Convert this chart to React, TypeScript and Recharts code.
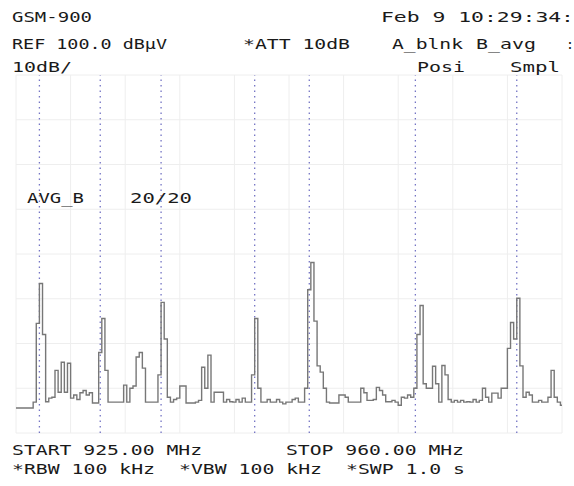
import { LineChart, Line, XAxis, YAxis, CartesianGrid, ReferenceLine } from "recharts";

// sweep settings
const START_MHZ = 925;
const STOP_MHZ = 960;
const REF_DBUV = 100;
const DB_PER_DIV = 10;
const DIVS_Y = 8;
const DIVS_X = 10;

// averaged trace B, 176 sweep points (dBuV)
const levels = [
  25.6, 25.6, 25.6, 25.6, 25.6, 25.6, 26.9, 44.5, 53.4, 42,
  27, 27.8, 28, 34, 29.1, 35.8, 29.1, 35.6, 27.8, 28.5,
  27.5, 29, 29.5, 28.5, 29, 26.7, 26.7, 38, 45.6, 34,
  26.9, 26.9, 26.9, 26.9, 26.9, 30.7, 26.9, 30, 30.5, 37,
  38, 34.5, 26.9, 26.9, 26.9, 26.9, 33, 49.2, 41, 28,
  26.9, 27.5, 27.8, 30.5, 30.5, 26.7, 26.7, 26.7, 26.9, 27.3,
  34.7, 30, 37.4, 26.9, 29.1, 29.1, 29.1, 26.9, 27.5, 27,
  26.9, 27.5, 26.9, 27.8, 26.9, 26.9, 33, 45.6, 30, 26.9,
  26.9, 27.5, 26.9, 26.9, 27.5, 26.9, 26.5, 26.9, 26.9, 27.5,
  27.8, 26.9, 26.9, 30, 52, 58.1, 45, 35, 33.6, 30,
  26.9, 26.7, 26.7, 26.7, 28.5, 28.5, 28, 26.9, 26.9, 26.9,
  26.9, 30, 29, 27.3, 27.3, 27.5, 30.2, 29.5, 28.5, 27,
  27, 27.3, 26.9, 26.2, 28, 27.8, 28.5, 28, 30, 42,
  48.5, 31, 30, 30, 34.9, 31, 26.9, 35.1, 33, 27.5,
  26.9, 27.3, 26.9, 27.3, 26.9, 27, 26.9, 27.5, 26.9, 27.3,
  30, 28, 26.9, 28.9, 28.9, 27.8, 30, 30, 38.9, 44.7,
  41, 50.1, 35, 28, 29.1, 28.5, 26.9, 26.9, 27.3, 26.9,
  26.9, 28, 34, 28, 26.9, 26.2,
];

// channel markers (MHz)
const markers = [926.5, 930.4, 934.3, 940.3, 943.8, 950.6, 957.1];

const headerTexts = [
  { text: "GSM-900", x: 12, y: 22, w: 80 },
  { text: "Feb  9 10:29:34:", x: 381, y: 22, w: 193 },
  { text: "REF 100.0 dB\u00b5V", x: 12, y: 49, w: 155 },
  { text: "*ATT 10dB", x: 243, y: 49, w: 107 },
  { text: "A_blnk", x: 392, y: 49, w: 71 },
  { text: "B_avg", x: 476, y: 49, w: 60 },
  { text: ":", x: 566, y: 49, w: 8 },
  { text: "10dB/", x: 12, y: 72, w: 60 },
  { text: "Posi", x: 417, y: 72, w: 48 },
  { text: "Smpl", x: 510, y: 72, w: 50 },
  { text: "AVG_B", x: 27, y: 203, w: 57 },
  { text: "20/20", x: 130, y: 203, w: 62 },
  { text: "START 925.00 MHz", x: 12, y: 455, w: 190 },
  { text: "STOP 960.00 MHz", x: 286, y: 455, w: 178 },
  { text: "*RBW 100 kHz", x: 12, y: 474, w: 143 },
  { text: "*VBW 100 kHz", x: 179, y: 474, w: 143 },
  { text: "*SWP 1.0 s", x: 346, y: 474, w: 119 },
];

const step = (STOP_MHZ - START_MHZ) / (levels.length - 1);
const data = levels.map((v, i) => ({ f: START_MHZ + i * step, v }));

const xTicks = Array.from({ length: DIVS_X + 1 }, (_, i) => START_MHZ + (i * (STOP_MHZ - START_MHZ)) / DIVS_X);
const bottom = REF_DBUV - DB_PER_DIV * DIVS_Y;
const yTicks = Array.from({ length: DIVS_Y + 1 }, (_, i) => bottom + i * DB_PER_DIV);

export default function App() {
  return (
    <div style={{ position: "absolute", left: 0, top: 0, width: 574, height: 486, background: "#fff" }}>
      <LineChart width={574} height={486} data={data} margin={{ top: 75, right: 12, bottom: 53, left: 16 }}>
        <CartesianGrid stroke="#eeeeee" strokeWidth={1} />
        <XAxis dataKey="f" type="number" domain={[START_MHZ, STOP_MHZ]} ticks={xTicks} hide />
        <YAxis type="number" domain={[bottom, REF_DBUV]} ticks={yTicks} hide />
        {markers.map((m) => (
          <ReferenceLine key={m} x={m} stroke="#7474c4" strokeWidth={1.3} strokeDasharray="1.5 4" />
        ))}
        <Line
          type="step"
          dataKey="v"
          stroke="#777"
          strokeWidth={1.4}
          dot={false}
          isAnimationActive={false}
        />
      </LineChart>
      <svg width={574} height={486} style={{ position: "absolute", left: 0, top: 0, pointerEvents: "none" }}>
        {headerTexts.map((t) => (
          <text
            key={t.text + t.x}
            x={t.x}
            y={t.y}
            textLength={t.w}
            lengthAdjust="spacingAndGlyphs"
            fontFamily="DejaVu Sans Mono"
            fontSize={14}
            fill="#1a1a1a"
          >
            {t.text}
          </text>
        ))}
      </svg>
    </div>
  );
}
